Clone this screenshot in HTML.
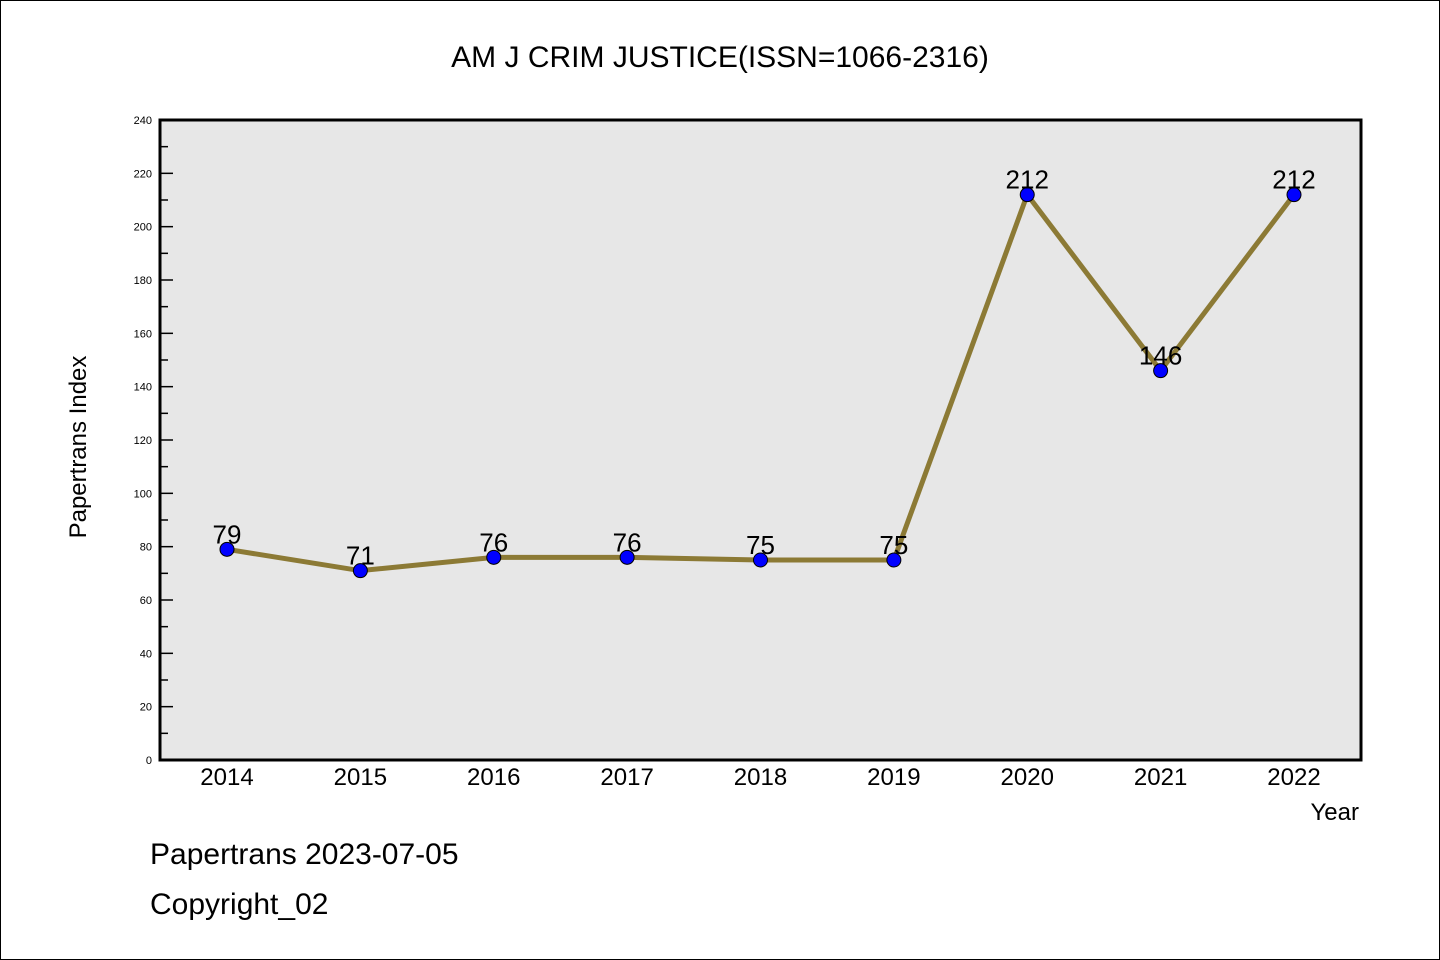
<!DOCTYPE html>
<html><head><meta charset="utf-8"><style>
html,body{margin:0;padding:0;background:#fff}
#wrap{width:1438px;height:958px;border:1px solid #000;position:relative;overflow:hidden}
text{font-family:"WenQuanYi Zen Hei","Liberation Sans",sans-serif}
</style></head><body>
<div id="wrap">
<svg id="chart" width="1438" height="958"></svg>
</div>
<script>
const years = ["2014","2015","2016","2017","2018","2019","2020","2021","2022"];
const values = [79,71,76,76,75,75,212,146,212];
const yTicks = [0,20,40,60,80,100,120,140,160,180,200,220,240];
const NS="http://www.w3.org/2000/svg";
const svg=document.getElementById('chart');
const L=159,R=1360,T=119,B=759,yMax=240;
const x0=226,xStep=(1293-226)/(years.length-1);
function xs(i){return x0+i*xStep;}
function ys(v){return B-(v/yMax)*(B-T);}
function mk(tag,attrs,name,txt){const e=document.createElementNS(NS,tag);for(const k in attrs)e.setAttribute(k,attrs[k]);


if(txt!==undefined)e.textContent=txt;svg.appendChild(e);return e;}
mk('rect',{x:L,y:T,width:R-L,height:B-T,fill:'#e7e7e7'},'plot-area');
mk('text',{x:719,y:66,'font-size':30,'text-anchor':'middle'},'chart-title','AM J CRIM JUSTICE(ISSN=1066-2316)');
yTicks.forEach(v=>{const y=ys(v);
mk('line',{x1:L,x2:L+13,y1:y,y2:y,stroke:'#000','stroke-width':1.5},'y-tick');
mk('text',{x:L-8,y:y+4,'font-size':11,'text-anchor':'end'},'y-tick-label',String(v));
if(v<240){const ym=ys(v+10);mk('line',{x1:L,x2:L+8,y1:ym,y2:ym,stroke:'#000','stroke-width':1.5},'y-minor-tick');}
});
years.forEach((yr,i)=>{mk('text',{x:xs(i),y:784,'font-size':24,'text-anchor':'middle'},'x-tick-label',yr);});
mk('rect',{x:L,y:T,width:R-L,height:B-T,fill:'none',stroke:'#000','stroke-width':3},'plot-border');
mk('text',{x:85,y:446,'font-size':24,'text-anchor':'middle',transform:'rotate(-90 85 446)'},'y-axis-title','Papertrans Index');
mk('text',{x:1358,y:819,'font-size':24,'text-anchor':'end'},'x-axis-title','Year');
mk('polyline',{points:values.map((v,i)=>xs(i)+','+ys(v)).join(' '),fill:'none',stroke:'#8c7a35','stroke-width':5},'series-line');
values.forEach((v,i)=>{
mk('circle',{cx:xs(i),cy:ys(v),r:7,fill:'#0000ff',stroke:'#000','stroke-width':1},'data-point-'+years[i]);
mk('text',{x:xs(i),y:ys(v)-6,'font-size':26,'text-anchor':'middle'},'value-label-'+years[i],String(v));
});
mk('text',{x:149,y:863,'font-size':30},'footer-date','Papertrans 2023-07-05');
mk('text',{x:149,y:913,'font-size':30},'footer-copyright','Copyright_02');
</script>
</body></html>
